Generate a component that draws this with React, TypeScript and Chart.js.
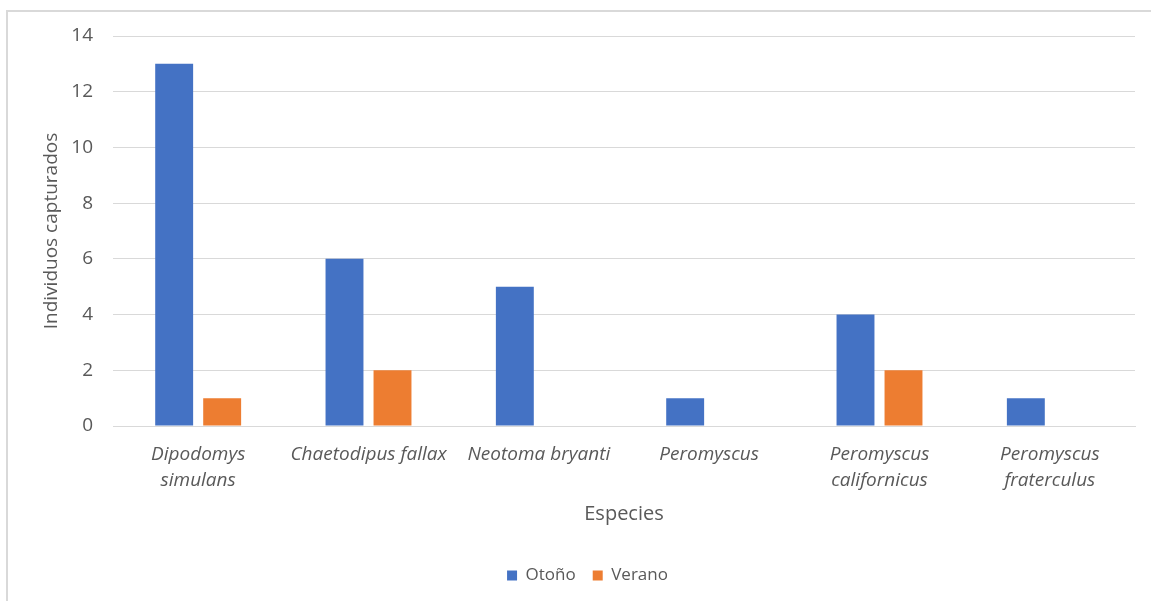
import React, { useEffect, useRef } from "react";
import { Chart, registerables } from "chart.js";

Chart.register(...registerables);

const categories: (string | string[])[] = [
  ["Dipodomys", "simulans"],
  "Chaetodipus fallax",
  "Neotoma bryanti",
  "Peromyscus",
  ["Peromyscus", "californicus"],
  ["Peromyscus", "fraterculus"],
];
const otono = [13, 6, 5, 1, 4, 1];
const verano = [1, 2, 0, 0, 2, 0];
const yTicks = [0, 2, 4, 6, 8, 10, 12, 14];

const FONT = "'Open Sans', Lato, sans-serif";
const TEXT = "#595959";
const GRID = "#d9d9d9";

const shiftLegend = {
  id: "shiftLegend",
  afterLayout(chart: any) {
    if (chart.legend) {
      chart.legend.left += 20;
      chart.legend.right += 20;
    }
  },
};

export default function App() {
  const ref = useRef<HTMLCanvasElement | null>(null);
  useEffect(() => {
    if (!ref.current) return;
    const chart = new Chart(ref.current, {
      type: "bar",
      data: {
        labels: categories,
        datasets: [
          {
            label: "Otoño",
            data: otono,
            backgroundColor: "#4472C4",
            borderWidth: 0,
            categoryPercentage: 0.5636,
            barPercentage: 0.79,
          },
          {
            label: "Verano",
            data: verano,
            backgroundColor: "#ED7D31",
            borderWidth: 0,
            categoryPercentage: 0.5636,
            barPercentage: 0.79,
          },
        ],
      },
      plugins: [shiftLegend],
      options: {
        responsive: false,
        animation: false,
        layout: { padding: { left: 0, right: 16, top: 36, bottom: 7 } },
        plugins: {
          legend: {
            position: "bottom",
            labels: {
              color: TEXT,
              font: { family: FONT, size: 17 },
              boxWidth: 10,
              boxHeight: 10,
              padding: 17,
            },
          },
          tooltip: { enabled: false },
        },
        scales: {
          x: {
            grid: { display: false },
            border: { display: true, color: GRID, width: 1 },
            ticks: {
              color: TEXT,
              font: { family: FONT, size: 19, style: "italic", lineHeight: 1.37 },
              padding: 8,
              maxRotation: 0,
              autoSkip: false,
            },
            title: {
              display: true,
              text: "Especies",
              color: TEXT,
              font: { family: FONT, size: 20 },
              padding: { top: 0, bottom: 24 },
            },
            afterFit: (s: any) => {
              s.height = 124;
            },
          },
          y: {
            min: 0,
            max: 14,
            afterBuildTicks: (s: any) => {
              s.ticks = yTicks.map((v) => ({ value: v }));
            },
            grid: { color: GRID, lineWidth: 1, drawTicks: false },
            border: { display: false },
            ticks: {
              color: TEXT,
              font: { family: FONT, size: 19 },
              padding: 20,
            },
            title: {
              display: true,
              text: "Individuos capturados",
              color: TEXT,
              font: { family: FONT, size: 19 },
              padding: { top: 40, bottom: 0 },
            },
            afterFit: (s: any) => {
              s.width = 113;
            },
          },
        },
      },
    });
    return () => chart.destroy();
  }, []);

  return (
    <div
      style={{
        position: "fixed",
        left: 0,
        top: 0,
        width: 1151,
        height: 601,
        overflow: "hidden",
        background: "#ffffff",
      }}
    >
      <div
        style={{
          position: "absolute",
          left: 6,
          top: 10,
          width: 1300,
          height: 800,
          borderLeft: `2px solid ${GRID}`,
          borderTop: `2px solid ${GRID}`,
        }}
      />
      <canvas
        ref={ref}
        width={1151}
        height={601}
        style={{ position: "absolute", left: 0, top: 0, width: 1151, height: 601 }}
      />
    </div>
  );
}
